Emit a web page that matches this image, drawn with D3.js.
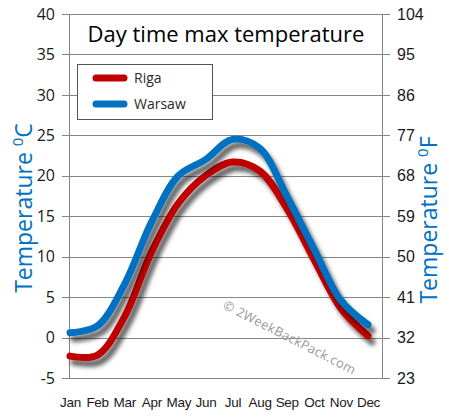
<!DOCTYPE html>
<html><head><meta charset="utf-8">
<script src="https://cdn.jsdelivr.net/npm/d3@7"></script>
<style>
body{margin:0;background:#fff;}
svg{display:block;font-family:"Open Sans","DejaVu Sans",sans-serif;}
</style></head>
<body><svg id="c" width="449" height="420"></svg>
<script>
const months = ["Jan","Feb","Mar","Apr","May","Jun","Jul","Aug","Sep","Oct","Nov","Dec"];
const riga   = [-2.3,-2.2,2.5,10.5,16.6,20.0,21.7,20.6,16.0,9.7,3.6,0.2];
const warsaw = [0.6,1.4,6.5,14.2,20.0,22.0,24.5,23.4,17.5,11.0,4.6,1.6];
const celsiusTicks = [40,35,30,25,20,15,10,5,0,-5];
const fahrenheitTicks = ["104","95","86","77","68","59","50","41","32","23"];
const seriesNames = ["Riga","Warsaw"];
const seriesColors = ["#c00000","#0070c0"];

const svg = d3.select("#c");
const L = 69, R = 382, T = 14, B = 378;
const x = d3.scalePoint().domain(months).range([70, 368]);
const y = d3.scaleLinear().domain([-5, 40]).range([B, T]);

const defs = svg.append("defs");
const f = defs.append("filter").attr("id","sh").attr("x","-20%").attr("y","-20%").attr("width","140%").attr("height","140%");
f.append("feDropShadow").attr("dx",4).attr("dy",6).attr("stdDeviation",2.3)
  .attr("flood-color","#000").attr("flood-opacity",0.6);

// grid lines
svg.append("g").selectAll("line").data(celsiusTicks).join("line")
  .attr("x1", L-7).attr("x2", R+8)
  .attr("y1", d=>Math.round(y(d))+0.5).attr("y2", d=>Math.round(y(d))+0.5)
  .attr("stroke","#868686").attr("stroke-width",1);
// vertical axes
[L,R].forEach(xx=>svg.append("line").attr("x1",xx+0.5).attr("x2",xx+0.5).attr("y1",T).attr("y2",B+1)
  .attr("stroke","#868686").attr("stroke-width",1));

// left labels
const leftAxis = d3.axisLeft(y).tickValues(celsiusTicks).tickFormat(d=>String(d)).tickSize(0).tickPadding(14);
const gl = svg.append("g").attr("transform",`translate(${L},0)`).call(leftAxis);
gl.select(".domain").remove();
gl.selectAll("text").attr("font-size",16).attr("fill","#1a1a1a").attr("font-family","'Open Sans',sans-serif");

// right labels
const yF = d3.scalePoint().domain(fahrenheitTicks).range([T, B]);
const rightAxis = d3.axisRight(yF).tickSize(0).tickPadding(15);
const gr = svg.append("g").attr("transform",`translate(${R},0)`).call(rightAxis);
gr.select(".domain").remove();
gr.selectAll("text").attr("font-size",16).attr("fill","#1a1a1a");

// month labels
const gx = svg.append("g").attr("transform",`translate(0,${B})`).call(d3.axisBottom(x).tickSize(0).tickPadding(19));
gx.select(".domain").remove();
gx.selectAll("text").attr("font-size",13.5).attr("fill","#1a1a1a").attr("letter-spacing","-0.3");

// title
svg.append("text").attr("x",226).attr("y",42).attr("text-anchor","middle")
  .attr("font-size",22).attr("fill","#000").text("Day time max temperature");

// axis titles
const lt = svg.append("text").attr("transform","translate(32,208) rotate(-90)").attr("text-anchor","middle")
  .attr("font-size",23).attr("fill","#0070c0");
lt.append("tspan").text("Temperature ");
lt.append("tspan").attr("font-size",15).attr("dy",-9).text("0");
lt.append("tspan").attr("dy",9).text("C");
const rt = svg.append("text").attr("transform","translate(437,220) rotate(-90)").attr("text-anchor","middle")
  .attr("font-size",23).attr("fill","#0070c0");
rt.append("tspan").text("Temperature ");
rt.append("tspan").attr("font-size",15).attr("dy",-9).text("0");
rt.append("tspan").attr("dy",9).text("F");

// watermark
svg.append("text").attr("transform","translate(222,308) rotate(27)")
  .attr("font-size",13).attr("fill","#9a9a9a").attr("letter-spacing","0.3").text("© 2WeekBackPack.com");

// lines
const line = d3.line().x((d,i)=>x(months[i])).y(d=>y(d)).curve(d3.curveCatmullRom.alpha(0.5));
const data = [riga, warsaw];
svg.append("g").selectAll("path").data(data).join("path")
  .attr("d", line).attr("fill","none")
  .attr("stroke",(d,i)=>seriesColors[i]).attr("stroke-width",7)
  .attr("stroke-linecap","round").attr("stroke-linejoin","round")
  .attr("filter","url(#sh)");

// legend
const lg = svg.append("g");
lg.append("rect").attr("x",77.5).attr("y",64.5).attr("width",135).attr("height",55)
  .attr("fill","#fff").attr("stroke","#555").attr("stroke-width",1);
seriesNames.forEach((n,i)=>{
  const yy = 78 + i*26;
  lg.append("line").attr("x1",96).attr("x2",124).attr("y1",yy).attr("y2",yy)
    .attr("stroke",seriesColors[i]).attr("stroke-width",7).attr("stroke-linecap","round");
  lg.append("text").attr("x",134).attr("y",yy+5).attr("font-size",14).attr("fill","#2a2a2a").text(n);
});
</script></body></html>
